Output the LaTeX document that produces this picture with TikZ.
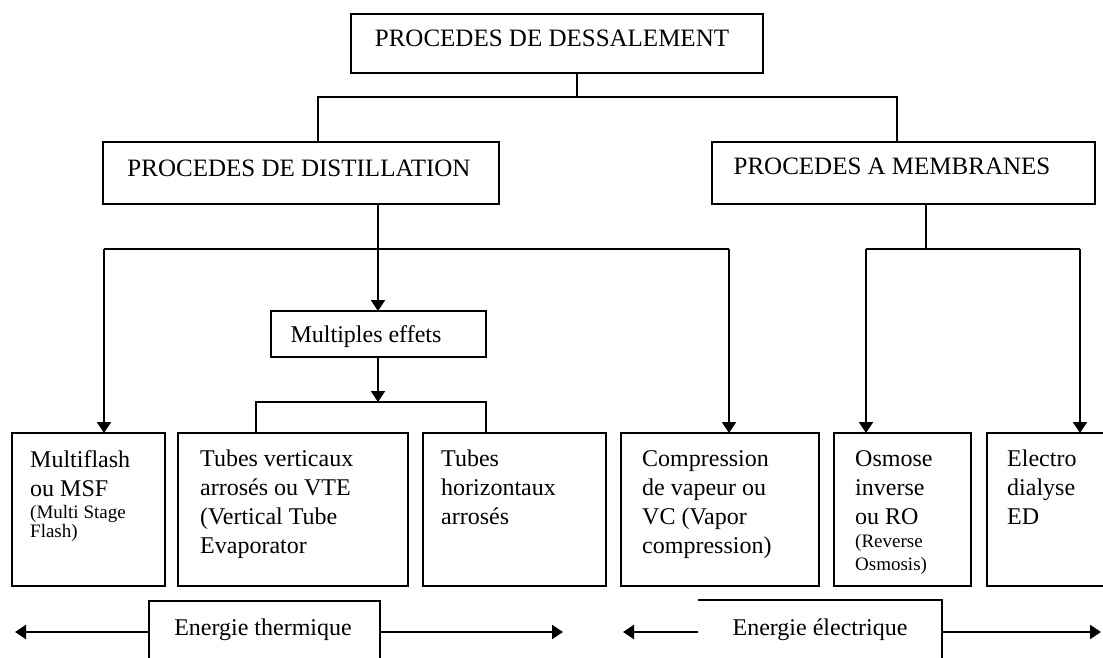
\documentclass[tikz,border=0pt]{standalone}
\usepackage{fontspec}
\setmainfont{Liberation Serif}
\usetikzlibrary{arrows.meta}
\begin{document}
\begin{tikzpicture}[x=1pt,y=-1pt,
  box/.style={draw, line width=2pt, inner sep=0pt, outer sep=0pt, anchor=north west},
  lab/.style={inner sep=0pt, anchor=base, font=\fontsize{25}{29}\selectfont},
  body/.style={inner sep=0pt, anchor=north west, align=left, font=\fontsize{24}{29}\selectfont},
  smalltext/.style={inner sep=0pt, anchor=base west, font=\fontsize{19}{22}\selectfont},
  con/.style={line width=2pt},
  arr/.style={line width=2pt, -{Triangle[width=14pt,length=11pt]}}]
\useasboundingbox (0,0) rectangle (1103,658);
\clip (0,0) rectangle (1103,658);
% boxes
\node[box, minimum width=412, minimum height=59] (top) at (351,14) {};
\node[box, minimum width=396, minimum height=62] (dist) at (103,142) {};
\node[box, minimum width=383, minimum height=62] (memb) at (712,142) {};
\node[box, minimum width=215, minimum height=46] (multi) at (271,311) {};
\node[box, minimum width=153, minimum height=153] (b1) at (12,433) {};
\node[box, minimum width=230, minimum height=153] (b2) at (178,433) {};
\node[box, minimum width=183, minimum height=153] (b3) at (423,433) {};
\node[box, minimum width=198, minimum height=153] (b4) at (621,433) {};
\node[box, minimum width=137, minimum height=153] (b5) at (834,433) {};
\node[box, minimum width=140, minimum height=153] (b6) at (987,433) {};
\node[box, minimum width=231, minimum height=80] (therm) at (149,601) {};
\node[box, draw=none, minimum width=244, minimum height=80] (elec) at (698,600) {};
\draw[con] (elec.north west) -- (elec.north east) -- (elec.south east);
% labels
\node[lab] (ttop) at (552,47) {PROCEDES DE DESSALEMENT};
\node[lab] (tdist) at (299,176) {PROCEDES DE DISTILLATION};
\node[lab] (tmemb) at (892,175) {PROCEDES A MEMBRANES};
\node[lab, font=\fontsize{24}{29}\selectfont] (tmulti) at (366,342) {Multiples effets};
\node[lab, font=\fontsize{24}{29}\selectfont] (ttherm) at (263,635) {Energie thermique};
\node[lab, font=\fontsize{24}{29}\selectfont] (telec) at (820,635) {Energie électrique};
\node[body] (x1) at (30,450) {Multiflash\\ou MSF};
\node[smalltext] (x1a) at (30,518) {(Multi Stage};
\node[smalltext] (x1b) at (30,537) {Flash)};
\node[body] (x2) at (200,450) {Tubes verticaux\\arrosés ou VTE\\(Vertical Tube\\Evaporator};
\node[body] (x3) at (441,450) {Tubes\\horizontaux\\arrosés};
\node[body] (x4) at (642,450) {Compression\\de vapeur ou\\VC (Vapor\\compression)};
\node[body] (x5) at (855,450) {Osmose\\inverse\\ou RO};
\node[smalltext] (x5a) at (855,547) {(Reverse};
\node[smalltext] (x5b) at (855,570) {Osmosis)};
\node[body] (x6) at (1007,450) {Electro\\dialyse\\ED};
% connectors top
\coordinate (c1) at (577,97);
\coordinate (c2) at (318,97);
\coordinate (c3) at (897,97);
\draw[con] (c1 |- top.south) -- (c1);
\draw[con] (c2 |- dist.north) -- (c2) -- (c3) -- (c3 |- memb.north);
% distillation
\coordinate (d0) at (378,249);
\coordinate (d1) at (104,249);
\coordinate (d2) at (729,249);
\draw[arr] (d0 |- dist.south) -- (d0 |- multi.north);
\draw[con] (d1) -- (d2);
\draw[arr] (d1) -- (d1 |- b1.north);
\draw[arr] (d2) -- (d2 |- b4.north);
% membranes
\coordinate (m0) at (926,249);
\coordinate (m1) at (866,249);
\coordinate (m2) at (1080,249);
\draw[con] (m0 |- memb.south) -- (m0);
\draw[con] (m1) -- (m2);
\draw[arr] (m1) -- (m1 |- b5.north);
\draw[arr] (m2) -- (m2 |- b6.north);
% multiples effets
\coordinate (e0) at (378,402);
\coordinate (e1) at (256,402);
\coordinate (e2) at (486,402);
\draw[arr] (e0 |- multi.south) -- (e0);
\draw[con] (e1 |- b2.north) -- (e1) -- (e2) -- (e2 |- b3.north);
% energy arrows
\coordinate (t1) at (15,632);
\coordinate (t2) at (563,632);
\coordinate (u1) at (623,632);
\coordinate (u2) at (1101,632);
\draw[arr] (t1 -| therm.west) -- (t1);
\draw[arr] (t1 -| therm.east) -- (t2);
\draw[arr] (u1 -| elec.west) -- (u1);
\draw[arr] (u1 -| elec.east) -- (u2);
\end{tikzpicture}
\end{document}
